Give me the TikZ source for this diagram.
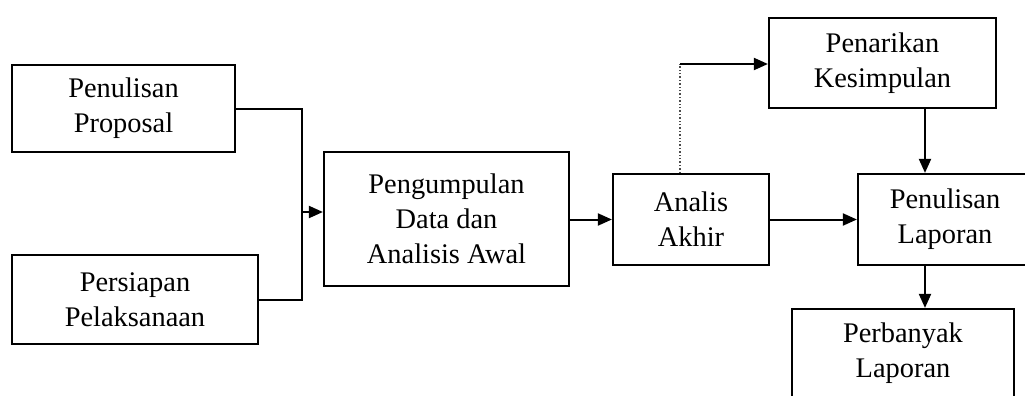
\documentclass[tikz,border=0pt]{standalone}
\usepackage{fontspec}
\setmainfont{Liberation Serif}
\usetikzlibrary{arrows.meta}
\tikzset{
    kotak/.style={draw, line width=1.1pt, align=center, inner sep=0pt,
        font=\fontsize{14.2}{17.5}\selectfont},
    panah/.style={line width=1pt, -{Triangle[length=7pt,width=6pt]}},
}
\begin{document}
\begin{tikzpicture}[x=0.5pt, y=-0.5pt]
    \clip (0,0) rectangle (1025,396);
    \fill[white] (0,0) rectangle (1025,396);
    \node[kotak, minimum width=111.5pt, minimum height=43.5pt] (prop) at (123.5,108.5) {Penulisan\\Proposal};
    \node[kotak, minimum width=123pt, minimum height=44.5pt] (siap) at (135,299.5) {Persiapan\\Pelaksanaan};
    \node[kotak, minimum width=122.5pt, minimum height=67pt] (kumpul) at (446.5,219) {Pengumpulan\\Data dan\\Analisis Awal};
    \node[kotak, minimum width=78pt, minimum height=45.5pt] (akhir) at (691,219.5) {Analis\\Akhir};
    \node[kotak, minimum width=113.5pt, minimum height=45pt] (tarik) at (882.5,63) {Penarikan\\Kesimpulan};
    \node[kotak, minimum width=87pt, minimum height=45.5pt] (tulis) at (945,219.5) {Penulisan\\Laporan};
    \node[kotak, minimum width=111pt, minimum height=44pt] (banyak) at (903,353) {Perbanyak\\Laporan};
    % titik bantu
    \coordinate (gabung) at (302,212);
    \coordinate (atas) at (680,64);
    \coordinate (kolom) at (925,0);
    \draw[line width=1pt] (prop.east) -| (gabung) |- (siap.east);
    \draw[panah] (gabung) -- (kumpul.west |- gabung);
    \draw[panah] (kumpul.east |- akhir.east) -- (akhir.west);
    \draw[densely dotted, line width=0.7pt, black!70] (akhir.north -| atas) -- (atas);
    \draw[panah] (atas) -- (tarik.west |- atas);
    \draw[panah] (akhir.east) -- (tulis.west);
    \draw[panah] (tarik.south -| kolom) -- (tulis.north -| kolom);
    \draw[panah] (tulis.south -| kolom) -- (banyak.north -| kolom);
\end{tikzpicture}
\end{document}
